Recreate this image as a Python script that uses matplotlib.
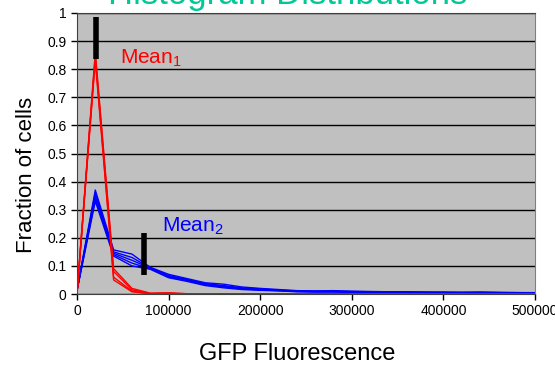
import matplotlib
matplotlib.use("Agg")
import matplotlib.pyplot as plt
import numpy as np

plt.rcParams['font.family'] = ['Liberation Sans', 'DejaVu Sans']
plt.rcParams['mathtext.default'] = 'regular'

# histogram bin positions (GFP fluorescence)
gfp = [0, 20000, 40000, 60000, 80000, 100000, 120000, 140000, 160000, 180000,
       200000, 220000, 240000, 260000, 280000, 300000, 320000, 340000, 360000,
       380000, 400000, 420000, 440000, 460000, 480000, 500000]

# population 1 (red), narrow distribution
red1 = [0, 0.86, 0.09, 0.02, 0.003, 0.004, 0.001, 0, 0, 0, 0, 0, 0, 0, 0, 0, 0, 0, 0, 0, 0, 0, 0, 0, 0, 0]
red2 = [0, 0.85, 0.08, 0.015, 0.002, 0.003, 0.001, 0, 0, 0, 0, 0, 0, 0, 0, 0, 0, 0, 0, 0, 0, 0, 0, 0, 0, 0]
red3 = [0, 0.84, 0.06, 0.01, 0.001, 0.002, 0, 0, 0, 0, 0, 0, 0, 0, 0, 0, 0, 0, 0, 0, 0, 0, 0, 0, 0, 0]
red4 = [0, 0.83, 0.05, 0.008, 0.001, 0.002, 0, 0, 0, 0, 0, 0, 0, 0, 0, 0, 0, 0, 0, 0, 0, 0, 0, 0, 0, 0]

# population 2 (blue), broad distribution
blue1 = [0.014, 0.37, 0.157, 0.142, 0.095, 0.070, 0.055, 0.040, 0.035, 0.025, 0.020, 0.016, 0.012, 0.011, 0.012,
         0.010, 0.009, 0.008, 0.008, 0.007, 0.007, 0.006, 0.007, 0.006, 0.005, 0.005]
blue2 = [0.014, 0.36, 0.150, 0.130, 0.093, 0.066, 0.052, 0.037, 0.030, 0.022, 0.018, 0.014, 0.011, 0.010, 0.010,
         0.009, 0.008, 0.007, 0.007, 0.006, 0.006, 0.006, 0.006, 0.005, 0.005, 0.004]
blue3 = [0.013, 0.35, 0.145, 0.120, 0.092, 0.063, 0.050, 0.035, 0.027, 0.020, 0.016, 0.013, 0.010, 0.009, 0.009,
         0.008, 0.007, 0.007, 0.006, 0.006, 0.005, 0.005, 0.005, 0.005, 0.004, 0.004]
blue4 = [0.012, 0.34, 0.140, 0.110, 0.090, 0.060, 0.048, 0.033, 0.025, 0.018, 0.015, 0.012, 0.009, 0.008, 0.008,
         0.007, 0.006, 0.006, 0.006, 0.005, 0.005, 0.004, 0.005, 0.004, 0.004, 0.003]
blue5 = [0.012, 0.33, 0.135, 0.100, 0.088, 0.058, 0.045, 0.030, 0.022, 0.016, 0.013, 0.011, 0.008, 0.007, 0.007,
         0.006, 0.006, 0.005, 0.005, 0.005, 0.004, 0.004, 0.004, 0.004, 0.003, 0.003]

reds = [red1, red2, red3, red4]
blues = [blue1, blue2, blue3, blue4, blue5]

# mean markers: x position, bottom, top
mean1 = (20500, 0.835, 0.985)
mean2 = (73700, 0.068, 0.218)

fig = plt.figure(figsize=(5.55, 3.66), dpi=100)
ax = fig.add_axes([0.1387, 0.1967, 0.8253, 0.7678])
ax.set_facecolor('#c0c0c0')

for b in blues:
    ax.plot(gfp, b, color='#0000ff', lw=1.0, zorder=3)
for r in reds:
    ax.plot(gfp, r, color='#ff0000', lw=1.0, zorder=3)

for m in (mean1, mean2):
    ax.plot([m[0], m[0]], [m[1], m[2]], color='black', lw=4, solid_capstyle='butt', zorder=4)

ax.text(47000, 0.821, 'Mean$_1$', color='#ff0000', fontsize=15)
ax.text(93000, 0.222, 'Mean$_2$', color='#0000ff', fontsize=15)

ax.set_xlim(0, 500000)
ax.set_ylim(0, 1)
ax.set_yticks(np.arange(0, 1.01, 0.1))
ax.set_yticklabels(['0', '0.1', '0.2', '0.3', '0.4', '0.5', '0.6', '0.7', '0.8', '0.9', '1'])
ax.set_xticks([0, 100000, 200000, 300000, 400000, 500000])
ax.set_xticklabels(['0', '100000', '200000', '300000', '400000', '500000'])
ax.tick_params(labelsize=10, length=4, width=1, direction='out', colors='black')
ax.yaxis.grid(True, color='black', lw=1)
ax.set_axisbelow(True)

for s in ('left', 'bottom', 'top'):
    ax.spines[s].set_color('#404040')
ax.spines['right'].set_color('#808080')

ax.set_xlabel('GFP Fluorescence', fontsize=17)
ax.xaxis.set_label_coords(0.48, -0.174)
ax.set_ylabel('Fraction of cells', fontsize=16)
ax.yaxis.set_label_coords(-0.088, 0.4235)

fig.text(0.519, 0.99, 'Histogram Distributions', color='#00c896', fontsize=25,
         ha='center', va='baseline')

fig.savefig('out.png', dpi=100)
